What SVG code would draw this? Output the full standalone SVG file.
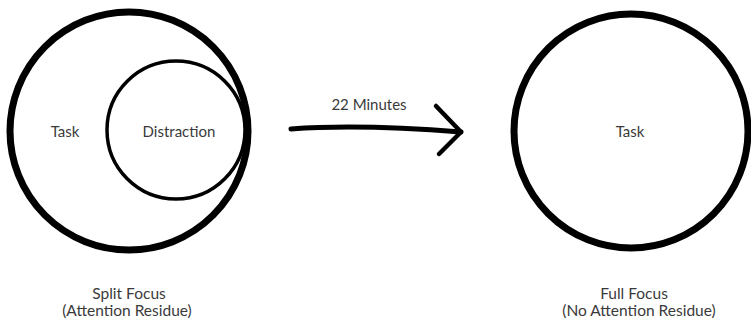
<svg xmlns="http://www.w3.org/2000/svg" width="751" height="323" viewBox="0 0 751 323">
<style>
.t{font-family:Lato,"Liberation Sans",sans-serif;font-size:15px;fill:#3a3a3a;text-anchor:middle}
.l{font-size:15.5px}
.big{fill:none;stroke:#000;stroke-width:7}
.small{fill:none;stroke:#000;stroke-width:3.5}
</style>
<rect width="751" height="323" fill="#fff"/>
<g id="split">
<circle class="big" cx="129" cy="131" r="119"/>
<text class="t" x="65" y="137">Task</text>
</g>
<g id="distraction">
<circle class="small" cx="176" cy="130" r="69"/>
<text class="t" x="179" y="137">Distraction</text>
</g>
<g id="full">
<circle class="big" cx="631" cy="131" r="117"/>
<text class="t" x="630" y="137">Task</text>
</g>
<g id="connectors">
<path d="M291 129 Q360 124 461 132" fill="none" stroke="#000" stroke-width="5" stroke-linecap="round"/>
<path d="M436 106 L461 132 L439 154" fill="none" stroke="#000" stroke-width="4.5" stroke-linecap="round" stroke-linejoin="round"/>
<text class="t" x="369" y="110">22 Minutes</text>
</g>
<g id="labels">
<text class="t l" x="129" y="299">Split Focus</text>
<text class="t l" x="127" y="316">(Attention Residue)</text>
<text class="t l" x="634" y="299">Full Focus</text>
<text class="t l" x="639" y="316">(No Attention Residue)</text>
</g>
</svg>
